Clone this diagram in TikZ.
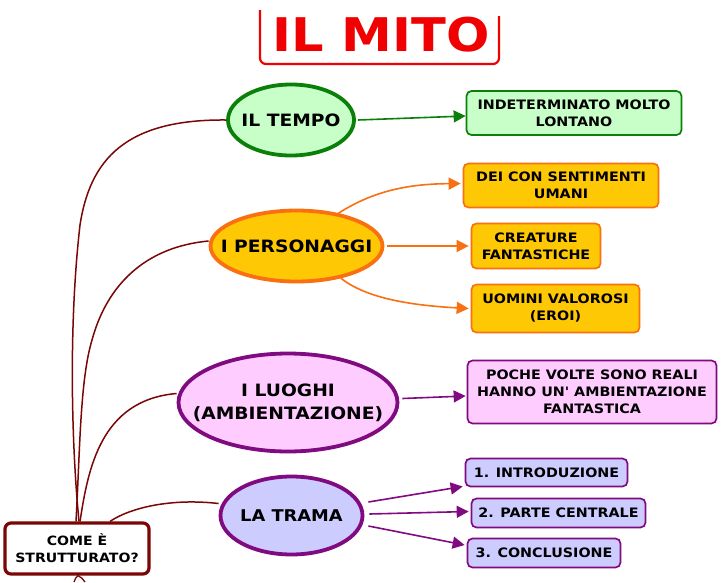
\documentclass[tikz,border=0pt]{standalone}
\usepackage{fontspec}
\newfontfamily\vf[FakeStretch=1.1]{DejaVu Sans}
\usetikzlibrary{shapes.geometric,arrows.meta}
\definecolor{wine}{HTML}{7A0606}
\definecolor{grn}{HTML}{0A800A}
\definecolor{grnf}{HTML}{C8FFC8}
\definecolor{org}{HTML}{FA7010}
\definecolor{orgf}{HTML}{FFC805}
\definecolor{pur}{HTML}{800A80}
\definecolor{pinkf}{HTML}{FFCCFF}
\definecolor{lavf}{HTML}{CCCCFF}
\definecolor{ttl}{HTML}{F00000}
\tikzset{
 ell/.style={ellipse,draw,line width=3.8pt,inner sep=-40pt,align=center,font=\vf\fontsize{17}{23}\selectfont\bfseries},
 bx/.style={rectangle,rounded corners=5pt,draw,line width=1.7pt,inner sep=0pt,align=center,font=\vf\fontsize{13}{17}\selectfont\bfseries},
 gcol/.style={draw=grn,fill=grnf},
 ocol/.style={draw=org,fill=orgf},
 pcol/.style={draw=pur,fill=pinkf},
 lcol/.style={draw=pur,fill=lavf},
 brn/.style={draw=wine,line width=1.5pt},
 arr/.style={line width=1.6pt,-{Triangle[length=12pt,width=12pt]}},
}
\begin{document}
\begin{tikzpicture}[x=1pt,y=-1pt]
\useasboundingbox[fill=white] (0,0) rectangle (724,582);
% title
\node[font=\vf\fontsize{46.4}{50}\selectfont\bfseries,text=ttl,inner sep=0pt] (title) at (381,35) {IL MITO};
\coordinate (tl) at (260,10);
\coordinate (tr) at (499,16);
\draw[ttl,line width=2.2pt,rounded corners=6pt] (tl) -- (260,64) -- (499,64) -- (tr);
% ellipses
\node[ell,gcol,minimum width=126pt,minimum height=71pt] (tempo) at (291,120) {IL TEMPO};
\node[ell,ocol,minimum width=172pt,minimum height=71pt] (pers) at (296.5,246) {I PERSONAGGI};
\node[ell,pcol,minimum width=219pt,minimum height=98pt] (luoghi) at (288,402.5) {I LUOGHI\\(AMBIENTAZIONE)};
\node[ell,lcol,minimum width=142pt,minimum height=78pt,font=\vf\fontsize{16.2}{23}\selectfont\bfseries] (trama) at (291.5,515.5) {LA TRAMA};
% boxes
\node[bx,gcol,minimum width=215pt,minimum height=44pt] (indet) at (574,113) {INDETERMINATO MOLTO\\LONTANO};
\node[bx,ocol,minimum width=195pt,minimum height=44pt] (dei) at (561,185.5) {DEI CON SENTIMENTI\\UMANI};
\node[bx,ocol,minimum width=129pt,minimum height=45pt] (crea) at (536,246) {CREATURE\\FANTASTICHE};
\node[bx,ocol,minimum width=168pt,minimum height=48pt] (uom) at (555.5,308.5) {UOMINI VALOROSI\\(EROI)};
\node[bx,pcol,minimum width=249pt,minimum height=63pt] (poche) at (592,392) {POCHE VOLTE SONO REALI\\HANNO UN' AMBIENTAZIONE\\FANTASTICA};
\node[bx,lcol,minimum width=162pt,minimum height=28pt] (intro) at (546.5,472.5) {1. INTRODUZIONE};
\node[bx,lcol,minimum width=174pt,minimum height=29pt] (parte) at (558.5,513) {2. PARTE CENTRALE};
\node[bx,lcol,minimum width=153pt,minimum height=29pt] (concl) at (544,553) {3. CONCLUSIONE};
\node[rectangle,rounded corners=6pt,draw=wine,line width=3.2pt,fill=white,minimum width=144pt,minimum height=51pt,inner sep=0pt,align=center,font=\vf\fontsize{12.8}{17}\selectfont\bfseries] (come) at (77,548.5) {COME È\\STRUTTURATO?};
% brown curves
\draw[brn] ([xshift=2pt]come.north) .. controls (72,450) and (68,330) .. (80,225) .. controls (90,160) and (125,119) .. (tempo.west);
\draw[brn] ([xshift=-1pt]come.north) .. controls (80,450) and (80,380) .. (92,340) .. controls (107,285) and (145,247) .. ([yshift=5pt]pers.west);
\draw[brn] ([xshift=3pt]come.north) .. controls (88,470) and (100,400) .. ([yshift=9pt]luoghi.west);
\draw[brn] ([xshift=33pt]come.north) .. controls (130,508) and (170,498) .. ([yshift=12pt]trama.west);
\coordinate (s1) at (74,582);
\coordinate (s2) at (85,582);
\draw[wine,line width=1.3pt] ([xshift=1pt]come.south) .. controls (76,577) and (75,579) .. (s1);
\draw[wine,line width=1.3pt] ([xshift=1pt]come.south) .. controls (81,577) and (83,579) .. (s2);
% arrows
\draw[arr,grn] ([xshift=2pt]tempo.east) -- ([yshift=-3pt]indet.west);
\draw[arr,org] (pers.38) .. controls (375,190) and (410,184) .. ([xshift=-2pt,yshift=2pt]dei.west);
\draw[arr,org] ([xshift=3pt]pers.east) -- ([xshift=-2pt]crea.west);
\draw[arr,org] (pers.-36) .. controls (365,297) and (405,305) .. ([xshift=-2pt]uom.west);
\draw[arr,pur] ([xshift=3pt,yshift=4pt]luoghi.east) -- ([xshift=-1pt,yshift=-4pt]poche.west);
\draw[arr,pur] ([xshift=4pt,yshift=13.5pt]trama.east) -- ([xshift=-2pt,yshift=-14pt]intro.west);
\draw[arr,pur] ([xshift=5pt,yshift=1.5pt]trama.east) -- ([xshift=-2pt,yshift=1.5pt]parte.west);
\draw[arr,pur] ([xshift=4pt,yshift=-10.5pt]trama.east) -- ([xshift=-2pt,yshift=8pt]concl.west);
\end{tikzpicture}
\end{document}
